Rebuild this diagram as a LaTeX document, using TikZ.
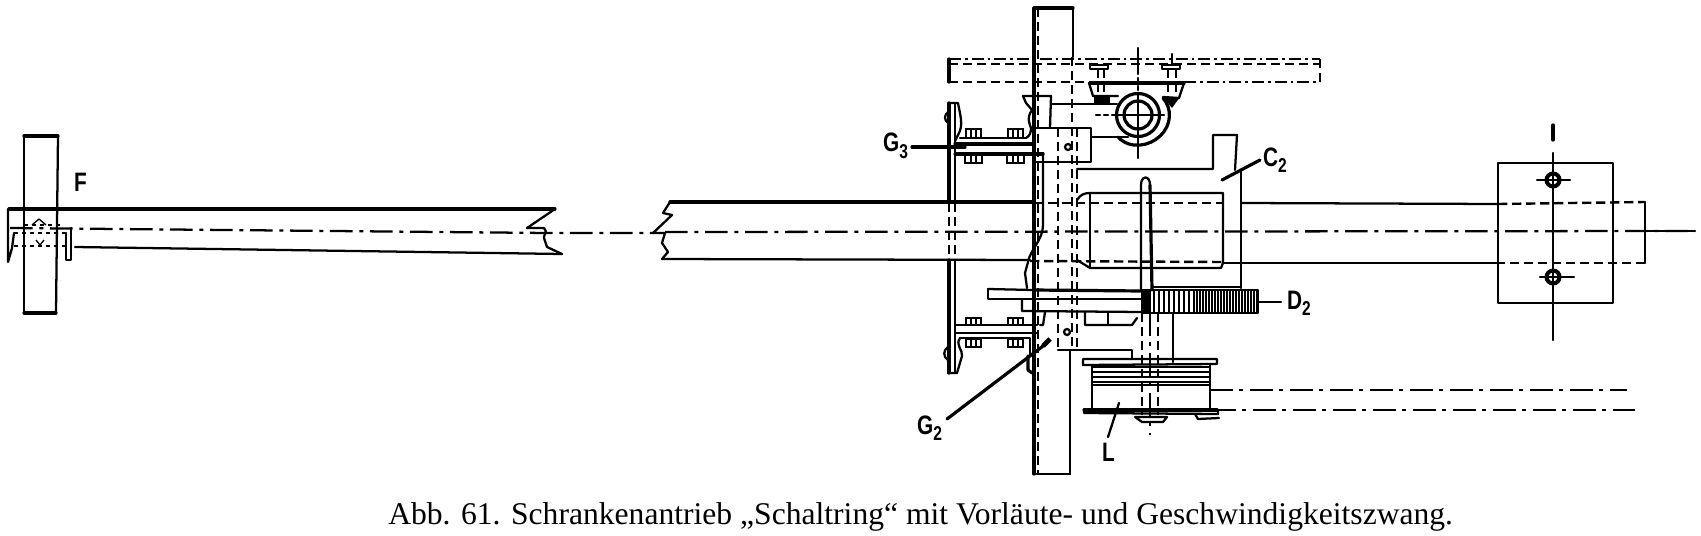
\documentclass[tikz,border=0pt]{standalone}
\usepackage{fontspec}
\setmainfont{Liberation Serif}
\setsansfont{Liberation Sans}
\tikzset{
  ln/.style={line width=1.7pt,line join=round,line cap=round},
  hv/.style={line width=2.4pt,line join=round,line cap=round},
  tn/.style={line width=1.0pt,line join=round},
  dd/.style={line width=1.7pt,dash pattern=on 17pt off 5pt on 3pt off 5pt},
  bd/.style={line width=1.7pt,dash pattern=on 9pt off 3pt on 2pt off 3pt},
  hd/.style={line width=1.8pt,dash pattern=on 7pt off 3.5pt},
  lab/.style={font=\fontsize{20}{21}\bfseries\sffamily,inner sep=0pt,xscale=.78,transform shape},
  nut/.style={line width=1.5pt}
}
\newcommand{\subn}[1]{\raisebox{-5pt}{\fontsize{15}{15}\bfseries\sffamily #1}}
\begin{document}
\begin{tikzpicture}[x=.75pt,y=-.75pt]
\useasboundingbox (0,0) rectangle (1701,535);
% --- left end: F
\draw[hv] (24,136) -- (58,136);
\draw[ln] (24,136) -- (24,313);
\draw[ln] (58,136) -- (56,313);
\draw[hv] (24,313) -- (56,313);
\draw[hv] (9,209) -- (555,209);
\draw[ln] (75,247) -- (562,254);
\draw[dd] (10,228) -- (548,233) -- (653,233);
\draw[ln] (555,209) -- (527,228) -- (544,228) .. controls (549,232) and (541,236) .. (545,241) -- (547,247) -- (562,254);
\draw[ln] (8,209) -- (8,262) -- (12,248) -- (14,233);
\draw[ln] (66,233) -- (66,260) -- (71,260) -- (71,228);
\draw[tn,dashed] (14,233) -- (66,233);
\draw[tn,dashed] (24,225) -- (62,225);
\draw[tn,dashed] (14,246) -- (66,246);
\draw[tn] (32,225) -- (39,219) -- (46,225);
\draw[tn] (36,240) -- (40,245) -- (44,240);
\node[lab,anchor=south west] (F) at (74,192) {F};
% --- shaft centre
\draw[hv] (670,202) -- (1034,202);
\draw[ln] (670,202) -- (663,213) -- (672,215) -- (653,233) -- (665,233) -- (662,243) -- (668,252) -- (662,259) -- (1030,260);
\draw[dd] (665,232) -- (1695,231);
\draw[hd] (1034,203) -- (1223,203);
\draw[hd] (1030,261) -- (1223,262);
\draw[ln] (1241,203) -- (1498,204);
\draw[ln] (1223,263) -- (1498,263);
\draw[hd] (1498,204) -- (1645,202);
\draw[ln] (1645,202) -- (1645,263);
\draw[hd] (1645,263) -- (1498,263);
% --- right plate
\draw[ln] (1498,163) rectangle (1613,303);
\draw[hv] (1553,125) -- (1553,140);
\draw[ln] (1553,153) -- (1553,340);
\draw[ln] (1537,180) -- (1570,180);
\draw[ln] (1540,277) -- (1574,277);
\draw[line width=3pt] (1553,180) circle (6.5);
\draw[line width=3pt] (1553,277) circle (6.5);
\draw[ln] (1645,231) -- (1695,231);
% --- vertical post
\draw[hv] (1034,8) -- (1034,474);
\draw[hv] (1034,8) -- (1073,8);
\draw[ln] (1073,8) -- (1073,57);
\draw[hd] (1072,57) -- (1072,350);
\draw[ln] (1070,350) -- (1070,474);
\draw[ln] (1034,474) -- (1070,474);
\draw[hd] (1038,8) -- (1038,474);
\draw[hd] (1058,128) -- (1058,350);
\draw[hd] (1077,128) -- (1077,350);
\draw[ln] (1068,147) circle (3);
\draw[ln] (1067,332) circle (3);
% --- upper dash-dot beam
\draw[bd] (949,59) -- (1320,59);
\draw[hd] (949,64) -- (1320,64);
\draw[hd] (949,82) -- (1092,82);
\draw[bd] (1184,82) -- (1320,82);
\draw[hv] (949,59) -- (949,82);
\draw[hd] (1320,59) -- (1320,82);
\draw[hv] (1090,83) -- (1184,83);
\draw[ln] (1090,65) rectangle (1108,69);
\draw[ln] (1162,65) rectangle (1180,69);
\draw[hd] (1098,69) -- (1098,100);
\draw[hd] (1104,69) -- (1104,100);
\draw[hd] (1168,69) -- (1168,100);
\draw[hd] (1176,69) -- (1176,100);
\draw[ln] (1172,54) -- (1172,64);
\draw[ln] (1089,83) -- (1093,96) -- (1118,96);
\draw[ln] (1184,83) -- (1179,98) -- (1163,97);
\fill (1094,97) rectangle (1110,103);
\fill (1163,97) -- (1180,97) -- (1172,108) -- cycle;
% bearing
\draw[hv] (1138,115) circle (21.5);
\draw[hv] (1138,115) circle (14);
\draw[ln] (1138,48) -- (1138,70);
\draw[ln,dashed] (1138,70) -- (1138,93);
\draw[ln] (1138,93) -- (1138,158);
\draw[ln] (1116,115) -- (1164,115);
\draw[ln,dashed] (1096,115) -- (1116,115);
\draw[hv] (1163,98) .. controls (1172,108) and (1172,125) .. (1160,136) .. controls (1150,146) and (1130,150) .. (1118,137);
\draw[ln] (1051,104) -- (1117,104);
\draw[ln] (1092,137) -- (1128,137);
% block
\draw[ln] (1023,96) -- (1051,96) -- (1050,128);
\draw[ln] (1023,96) -- (1026,103) -- (1032,110) .. controls (1026,118) and (1030,125) .. (1031,128) .. controls (1031,132) and (1030,136) .. (1026,138);
\draw[ln] (1034,128) -- (1091,128) -- (1091,162) -- (1034,162);
\draw[ln] (1077,169) -- (1213,169) -- (1213,135) -- (1237,135) -- (1235,170);
\draw[ln] (1241,170) -- (1241,288);
\draw[ln] (1043,153) -- (1043,225) .. controls (1043,240) and (1030,250) .. (1028,262) -- (1025,273) -- (1027,288);
\draw[ln] (1034,153) -- (1043,153);
% cylinder
\draw[ln] (1077,200) .. controls (1080,195) and (1084,193) .. (1090,193) -- (1223,193) -- (1223,263) -- (1221,268) -- (1090,268) -- (1077,260);
\draw[ln] (1090,193) -- (1090,268);
\draw[ln] (1141,290) -- (1141,185) .. controls (1141,175) and (1150,175) .. (1150,185);
\draw[hv] (1150,185) -- (1152,290);
% left plate
\draw[hv] (949,103) -- (949,203);
\draw[hd] (949,203) -- (949,260);
\draw[hd] (955,203) -- (955,260);
\draw[hv] (949,260) -- (949,373);
\draw[ln] (955,103) -- (955,203);
\draw[ln] (955,260) -- (955,373);
\draw[ln] (949,103) -- (958,103) .. controls (960,115) and (964,125) .. (958,135) -- (955,141);
\draw[ln] (948,112) .. controls (944,115) and (944,120) .. (948,123);
\draw[ln] (960,138) -- (1026,138);
\draw[hv] (955,144) -- (1034,144);
\draw[hv] (955,154) -- (1043,154);
% upper bolts
\foreach \bx in {966,1008}{
  \draw[nut] (\bx,129) rectangle ++(15,9);
  \draw[nut] (\bx+5,129) -- ++(0,9) (\bx+10,129) -- ++(0,9);
  \draw[nut] (\bx-1,154) rectangle ++(17,9);
  \draw[nut] (\bx+5,154) -- ++(0,9) (\bx+10,154) -- ++(0,9);
}
% lower bar and gear
\draw[ln] (988,289) -- (988,299) -- (1142,299);
\draw[ln] (988,289) -- (1033,290);
\draw[hv] (1033,290) -- (1142,291);
\draw[ln] (1022,299) -- (1022,311) -- (1142,312);
\draw[ln] (1085,312) -- (1085,325) -- (1132,325) -- (1137,318);
\draw[ln] (1108,312) -- (1108,325);
\draw[ln] (1045,312) -- (1043,325) -- (1040,325);
\draw[ln] (1153,287) -- (1240,287);
\draw[ln] (1142,290) rectangle (1258,313);
\fill (1142,290) rectangle (1151,313);
\foreach \gx in {1154,1159,...,1194}{\draw[line width=1.3pt] (\gx,291) -- (\gx,313);}
\foreach \gx in {1197,1200,...,1257}{\draw[line width=1.3pt] (\gx,291) -- (\gx,313);}
\draw[hd] (1142,313) -- (1142,415);
\draw[hd] (1158,313) -- (1158,415);
\draw[dd] (1150,313) -- (1150,435);
\draw[ln] (1173,313) -- (1173,362);
% lower angle
\draw[ln] (955,325) -- (1037,325);
\draw[ln] (955,333) -- (1037,333);
\draw[ln] (960,338) -- (1030,338) -- (1030,356);
\draw[ln] (960,338) .. controls (955,345) and (963,350) .. (962,356) -- (957,373) -- (948,373);
\draw[ln] (948,347) .. controls (943,350) and (943,357) .. (948,360);
\draw[hv] (1028,356) -- (1028,370) -- (1032,373);
\foreach \bx in {966,1008}{
  \draw[nut] (\bx,318) rectangle ++(15,7);
  \draw[nut] (\bx+5,318) -- ++(0,7) (\bx+10,318) -- ++(0,7);
  \draw[nut] (\bx,339) rectangle ++(15,8);
  \draw[nut] (\bx+5,339) -- ++(0,8) (\bx+10,339) -- ++(0,8);
}
\draw[ln] (1058,350) -- (1132,350) -- (1132,358);
% coil L
\draw[ln] (1083,359) -- (1217,359) -- (1217,364) -- (1083,365) -- cycle;
\foreach \wy in {367,372,377,382,385}{\draw[ln] (1092,\wy) -- (1210,\wy);}
\draw[ln] (1092,365) -- (1092,412);
\draw[ln] (1210,365) -- (1210,410);
\draw[hv] (1084,410) -- (1217,410);
\draw[ln] (1084,410) -- (1084,413) -- (1218,414) -- (1218,410);
\draw[ln] (1135,417) -- (1167,417) -- (1163,422) -- (1142,422) -- (1135,417);
\draw[ln] (1195,414) -- (1198,419) -- (1219,418);
\draw[dd] (1210,390) -- (1627,390);
\draw[dd] (1213,410) -- (1635,410);
% labels and leaders
\node[lab,anchor=south west] (G3) at (883,159) {G\subn{3}};
\coordinate (G3e) at (965,147);
\draw[hv] (912,147) -- (G3e);
\node[lab,anchor=south west] (C2) at (1263,173) {C\subn{2}};
\coordinate (C2e) at (1222,180);
\draw[hv] (1260,160) -- (C2e);
\node[lab,anchor=south west] (D2) at (1287,316) {D\subn{2}};
\coordinate (D2e) at (1258,302);
\draw[ln] (1281,302) -- (D2e);
\node[lab,anchor=south west] (G2) at (917,441) {G\subn{2}};
\coordinate (G2e) at (1047,343);
\draw[hv] (947,419) -- (G2e);
\draw[line width=3.5pt] (1043,346) -- (1050,339);
\node[lab,anchor=south west] (L) at (1102,462) {L};
\coordinate (Le) at (1119,403);
\draw[ln] (1108,437) -- (Le);
% caption
\node[font=\fontsize{23.7}{26}\selectfont,anchor=base west,inner sep=0pt] (cap) at (388,524) {Abb. 61. Schrankenantrieb „Schaltring“ mit Vorläute- und Geschwindigkeitszwang.};
\end{tikzpicture}
\end{document}
